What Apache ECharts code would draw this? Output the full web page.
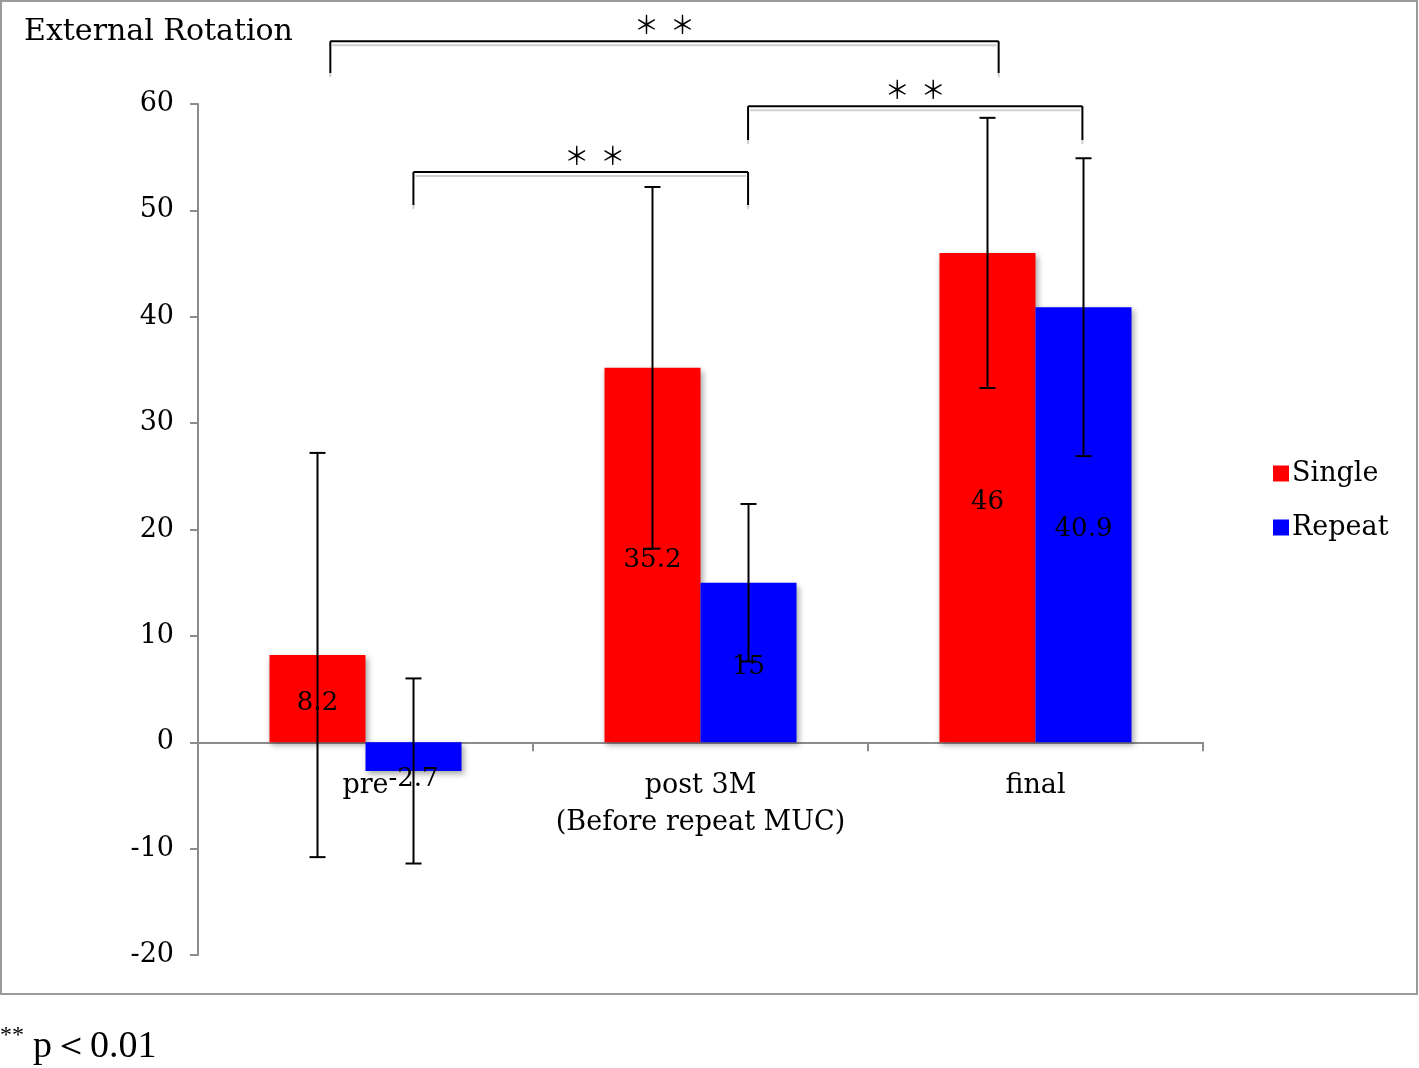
<!DOCTYPE html>
<html>
<head>
<meta charset="utf-8">
<script src="https://cdn.jsdelivr.net/npm/echarts@6/dist/echarts.min.js"></script>
<style>
html,body{margin:0;padding:0;background:#fff;}
#chart{width:1419px;height:1068px;}
</style>
</head>
<body>
<div id="chart"></div>
<script>
// ---- data ----
const categories = ['pre', 'post 3M\n(Before repeat MUC)', 'final'];
const seriesNames = ['Single', 'Repeat'];
const singleValues = [8.2, 35.2, 46];
const repeatValues = [-2.7, 15, 40.9];
const singleSD = [19.0, 17.0, 12.7];
const repeatSD = [8.7, 7.4, 14.0];
const yTicks = { min: -20, max: 60, interval: 10 };
const titleText = 'External Rotation';
const starText = '＊  ＊';
const footStars = '**';
const footText = 'p＜0.01';

// ---- layout (annotation brackets: positions in category units / value units) ----
const brackets = [
  { x1: -0.105, x2: 1.89, y: 65.9, drop: 3.0, starDx: 0 },
  { x1: 1.142, x2: 2.14, y: 59.8, drop: 3.2, starDx: 0 },
  { x1: 0.143, x2: 1.142, y: 53.6, drop: 3.1, starDx: 14 }
];
const barFrac = 0.2866;
const FONT = 'DejaVu Serif';
const GRID = { left: 198, right: 216, top: 104, bottom: 113 };

const chart = echarts.init(document.getElementById('chart'));

function errorSeries(name, values, sds, side) {
  return {
    type: 'custom',
    name: name + ' err',
    z: 5,
    silent: true,
    data: values.map((v, i) => [i, v, sds[i]]),
    renderItem: function (params, api) {
      const i = api.value(0), v = api.value(1), sd = api.value(2);
      const band = api.size([1, 0])[0];
      const x = api.coord([i, v])[0] + side * band * barFrac / 2;
      const yt = api.coord([i, v + sd])[1];
      const yb = api.coord([i, v - sd])[1];
      const cw = 8;
      const st = { stroke: '#000', lineWidth: 2 };
      return {
        type: 'group',
        children: [
          { type: 'line', shape: { x1: x, y1: yt, x2: x, y2: yb }, style: st },
          { type: 'line', shape: { x1: x - cw, y1: yt, x2: x + cw, y2: yt }, style: st },
          { type: 'line', shape: { x1: x - cw, y1: yb, x2: x + cw, y2: yb }, style: st }
        ]
      };
    }
  };
}

const barShadow = { shadowBlur: 6, shadowColor: 'rgba(0,0,0,0.35)', shadowOffsetX: 2, shadowOffsetY: 3 };
const labelBase = { show: true, position: 'inside', offset: [0, 5], color: '#000', fontFamily: FONT, fontSize: 26 };

// distance from the grid bottom up to the zero line (for placing category labels below the zero line)
const zeroLift = (1068 - GRID.top - GRID.bottom) * (0 - yTicks.min) / (yTicks.max - yTicks.min);

const option = {
  backgroundColor: '#fff',
  animation: false,
  grid: Object.assign({ containLabel: false }, GRID),
  legend: {
    data: seriesNames,
    orient: 'vertical',
    left: 1268,
    top: 455,
    icon: 'rect',
    itemWidth: 16,
    itemHeight: 16,
    itemGap: 27,
    textStyle: { color: '#000', fontFamily: FONT, fontSize: 27, padding: [0, 0, 0, -2] }
  },
  xAxis: {
    type: 'category',
    data: categories,
    axisLine: { onZero: true, lineStyle: { color: '#8c8c8c', width: 2 } },
    axisTick: { show: true, interval: 0, length: 9, lineStyle: { color: '#8c8c8c', width: 2 } },
    axisLabel: { interval: 0, color: '#000', fontFamily: FONT, fontSize: 27, margin: 25 - zeroLift, lineHeight: 37 }
  },
  yAxis: {
    type: 'value',
    min: yTicks.min, max: yTicks.max, interval: yTicks.interval,
    splitLine: { show: false },
    axisLine: { show: true, lineStyle: { color: '#8c8c8c', width: 2 } },
    axisTick: { show: true, length: 8, lineStyle: { color: '#8c8c8c', width: 2 } },
    axisLabel: { color: '#000', fontFamily: FONT, fontSize: 27, margin: 24, padding: [4, 0, 0, 0] }
  },
  series: [
    {
      name: 'Single', type: 'bar', barWidth: (barFrac * 100) + '%', barGap: '0%',
      itemStyle: Object.assign({ color: '#ff0000' }, barShadow),
      label: labelBase,
      data: singleValues
    },
    {
      name: 'Repeat', type: 'bar', barWidth: (barFrac * 100) + '%', barGap: '0%',
      itemStyle: Object.assign({ color: '#0000ff' }, barShadow),
      label: labelBase,
      data: repeatValues.map((v) => v < 0 ? { value: v, label: { offset: [0, 23] } } : v)
    },
    errorSeries('Single', singleValues, singleSD, -1),
    errorSeries('Repeat', repeatValues, repeatSD, 1)
  ]
};
chart.setOption(option);

// ---- graphics: border, title, brackets, footnote ----
function px(catPos, val) {
  const p0 = chart.convertToPixel({ gridIndex: 0 }, [0, val]);
  const p1 = chart.convertToPixel({ gridIndex: 0 }, [1, 0]);
  const band = p1[0] - p0[0];
  return [p0[0] + catPos * band, p0[1]];
}

const g = [
  { type: 'rect', shape: { x: 1, y: 1, width: 1416, height: 993 }, style: { fill: 'none', stroke: '#9a9a9a', lineWidth: 2 }, z: 0 },
  { type: 'text', left: 24, top: 17, style: { text: titleText, fill: '#000', font: '30px "' + FONT + '"' }, z: 10 },
  { type: 'text', left: 0, top: 1024, style: { text: footStars, fill: '#000', font: '24px "Liberation Serif"' }, z: 10 },
  { type: 'text', left: 33, top: 1028, style: { text: footText, fill: '#000', font: '38px "Liberation Serif"' }, z: 10 }
];

brackets.forEach((b) => {
  const a = px(b.x1, b.y), c = px(b.x2, b.y);
  const yd = px(b.x1, b.y - b.drop)[1];
  const ys = px(b.x1, b.y + 1.6)[1];
  const blk = { stroke: '#000', lineWidth: 2 };
  const gry = { stroke: '#cfcfcf', lineWidth: 2 };
  g.push({ type: 'line', shape: { x1: a[0], y1: a[1], x2: c[0], y2: c[1] }, style: blk, z: 10 });
  g.push({ type: 'line', shape: { x1: a[0] + 2, y1: a[1] + 4, x2: c[0] - 2, y2: c[1] + 4 }, style: gry, z: 10 });
  g.push({ type: 'line', shape: { x1: a[0], y1: a[1], x2: a[0], y2: yd }, style: blk, z: 10 });
  g.push({ type: 'line', shape: { x1: c[0], y1: c[1], x2: c[0], y2: yd }, style: blk, z: 10 });
  g.push({ type: 'line', shape: { x1: a[0], y1: yd, x2: a[0], y2: yd + 4 }, style: gry, z: 10 });
  g.push({ type: 'line', shape: { x1: c[0], y1: yd, x2: c[0], y2: yd + 4 }, style: gry, z: 10 });
  g.push({
    type: 'text', x: (a[0] + c[0]) / 2 + b.starDx, y: ys,
    style: { text: starText, fill: '#000', font: '25px "Noto Sans CJK JP"', textAlign: 'center', textVerticalAlign: 'middle' },
    z: 10
  });
});

chart.setOption({ graphic: g });
</script>
</body>
</html>
